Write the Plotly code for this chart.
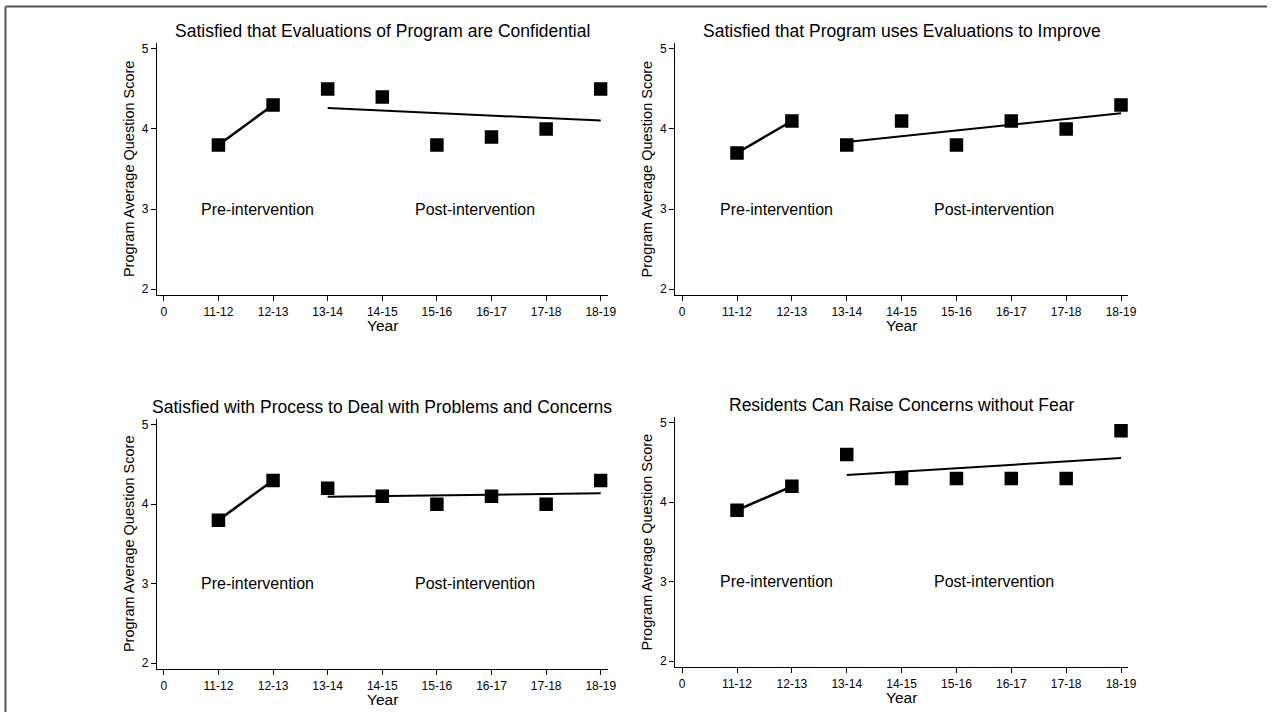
import numpy as np
import plotly.graph_objects as go

years = ["11-12", "12-13", "13-14", "14-15", "15-16", "16-17", "17-18", "18-19"]
tick_labels = ["0"] + years

titles = [
    "Satisfied that Evaluations of Program are Confidential",
    "Satisfied that Program uses Evaluations to Improve",
    "Satisfied with Process to Deal with Problems and Concerns",
    "Residents Can Raise Concerns without Fear",
]
confidential = [3.8, 4.3, 4.5, 4.4, 3.8, 3.9, 4.0, 4.5]
improve = [3.7, 4.1, 3.8, 4.1, 3.8, 4.1, 4.0, 4.3]
process = [3.8, 4.3, 4.2, 4.1, 4.0, 4.1, 4.0, 4.3]
raise_fear = [3.9, 4.2, 4.6, 4.3, 4.3, 4.3, 4.3, 4.9]
series = [confidential, improve, process, raise_fear]
n_pre = 2  # first two years are pre-intervention

W, H = 1276, 713
FONT = "Liberation Sans, Arial, Helvetica, sans-serif"

# panel pixel boxes: (left, right, top, bottom)
boxes = [
    (158, 612, 42, 295),
    (680, 1136, 42, 295),
    (158, 612, 419, 670),
    (680, 1136, 417, 668),
]

fig = go.Figure()
xpos = np.arange(1, len(years) + 1)

for i, (vals, title, box) in enumerate(zip(series, titles, boxes)):
    k = "" if i == 0 else str(i + 1)
    xa, ya = "x" + k, "y" + k
    vals = np.array(vals)
    # pre-intervention connecting line
    fig.add_trace(go.Scatter(x=xpos[:n_pre], y=vals[:n_pre], mode="lines",
                             line=dict(color="black", width=2.5),
                             xaxis=xa, yaxis=ya, showlegend=False, hoverinfo="skip"))
    # post-intervention linear fit
    xp, yp = xpos[n_pre:], vals[n_pre:]
    b, a = np.polyfit(xp, yp, 1)
    xf = np.array([xp[0], xp[-1]])
    fig.add_trace(go.Scatter(x=xf, y=a + b * xf, mode="lines",
                             line=dict(color="black", width=2),
                             xaxis=xa, yaxis=ya, showlegend=False, hoverinfo="skip"))
    # markers
    fig.add_trace(go.Scatter(x=xpos, y=vals, mode="markers",
                             marker=dict(symbol="square", size=13.5, color="black",
                                         line=dict(width=0)),
                             xaxis=xa, yaxis=ya, showlegend=False))

    l, r, t, btm = box
    xdom = [l / W, r / W]
    ydom = [1 - btm / H, 1 - t / H]
    axis_common = dict(showgrid=False, zeroline=False, showline=True, linecolor="black",
                       linewidth=1, ticks="outside", ticklen=5, tickwidth=1, tickcolor="black",
                       tickfont=dict(family=FONT, size=12, color="black"))
    fig.update_layout(**{
        "xaxis" + k: dict(domain=xdom, range=[-0.127, 8.127], tickvals=list(range(0, 9)),
                          ticktext=tick_labels, anchor=ya, **axis_common),
        "yaxis" + k: dict(domain=ydom, range=[1.925, 5.075], tickvals=[2, 3, 4, 5],
                          anchor=xa, **axis_common),
    })
    cx = (xdom[0] + xdom[1]) / 2
    # panel title
    fig.add_annotation(text=title, xref="paper", yref="paper", x=cx, y=1 - (t - 12) / H,
                       xanchor="center", yanchor="middle", showarrow=False,
                       font=dict(family=FONT, size=17.5, color="black"))
    # x axis title
    fig.add_annotation(text="Year", xref="paper", yref="paper", x=cx, y=1 - (btm + 30.5) / H,
                       xanchor="center", yanchor="middle", showarrow=False,
                       font=dict(family=FONT, size=15.5, color="black"))
    # y axis title
    fig.add_annotation(text="Program Average Question Score", xref="paper", yref="paper",
                       x=(l - 28) / W, y=1 - ((t + btm) / 2) / H, textangle=-90,
                       xanchor="center", yanchor="middle", showarrow=False,
                       font=dict(family=FONT, size=14.5, color="black"))
    # phase labels
    fig.add_annotation(text="Pre-intervention", xref=xa, yref=ya, x=1.72, y=3,
                       showarrow=False, xanchor="center", yanchor="middle",
                       font=dict(family=FONT, size=16, color="black"))
    fig.add_annotation(text="Post-intervention", xref=xa, yref=ya, x=5.69, y=3,
                       showarrow=False, xanchor="center", yanchor="middle",
                       font=dict(family=FONT, size=16, color="black"))

# outer frame (left and top edges visible)
fig.add_shape(type="line", xref="paper", yref="paper", x0=5.5 / W, x1=5.5 / W,
              y0=0, y1=1 - 5.5 / H, line=dict(color="#555555", width=2))
fig.add_shape(type="line", xref="paper", yref="paper", x0=5.5 / W, x1=1,
              y0=1 - 5.5 / H, y1=1 - 5.5 / H, line=dict(color="#555555", width=2))

fig.update_layout(width=W, height=H, margin=dict(l=0, r=0, t=0, b=0),
                  paper_bgcolor="white", plot_bgcolor="white",
                  font=dict(family=FONT, color="black"))
fig.write_html("out.html", config={"displayModeBar": False},
               post_script=("document.body.style.margin='0';"
                            "document.body.style.overflow='hidden';"
                            "document.documentElement.style.overflow='hidden';"))
